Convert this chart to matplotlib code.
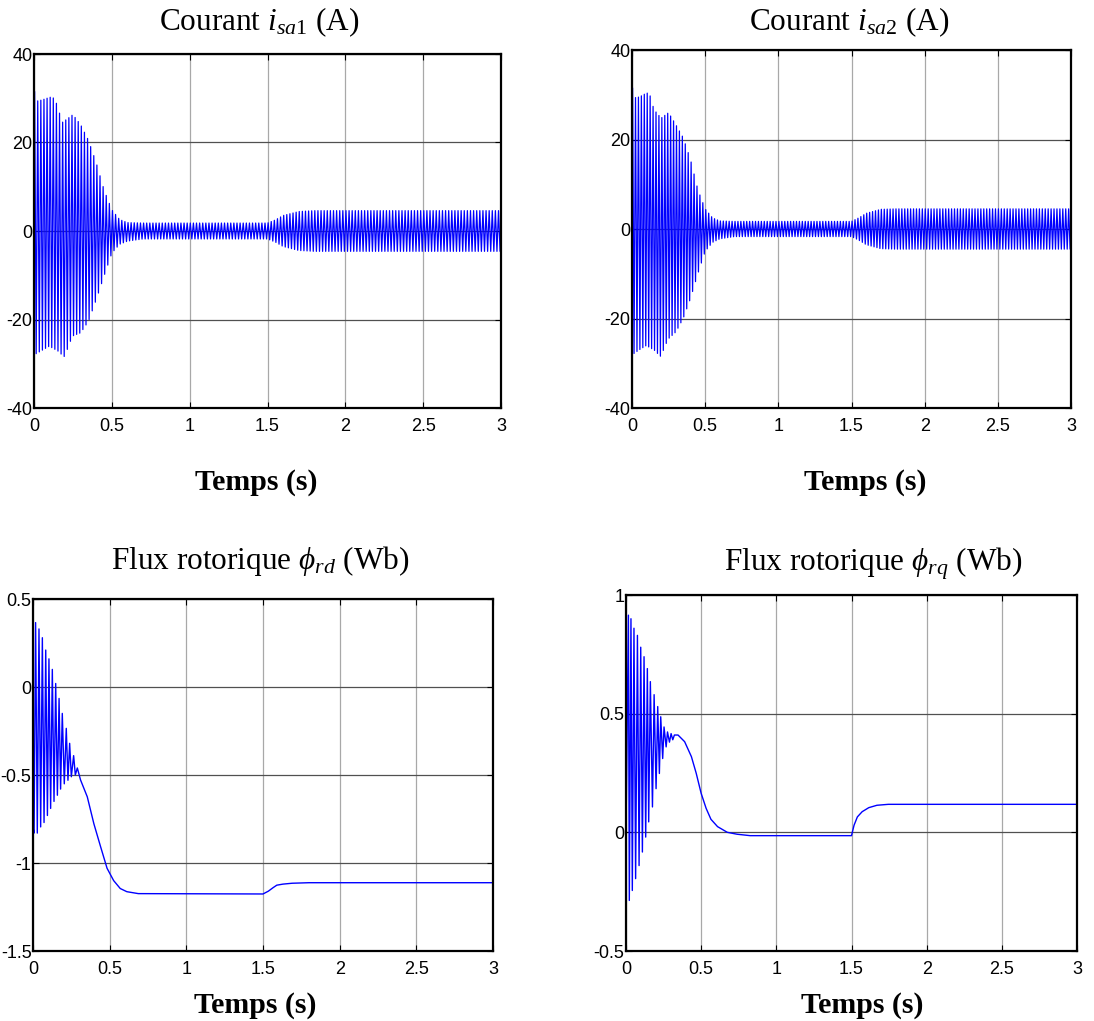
import numpy as np
import matplotlib
matplotlib.use("Agg")
import matplotlib.pyplot as plt

plt.rcParams["mathtext.fontset"] = "custom"
plt.rcParams["mathtext.rm"] = "Liberation Serif"
plt.rcParams["mathtext.it"] = "Liberation Serif:italic"

W, H = 1094, 1021
F_GRID = 50.0  # supply frequency of the stator currents (Hz), read from the cycle count

# --- stator currents: envelope knots ---
t_env = [0.0, 0.01, 0.05, 0.10, 0.12, 0.15, 0.18, 0.20, 0.22, 0.25, 0.30, 0.35, 0.40,
         0.45, 0.50, 0.55, 0.60, 0.70, 1.50, 1.55, 1.60, 1.70, 1.80, 3.00]
isa1_up = [33.0, 29.3, 29.6, 30.2, 30.3, 28.5, 24.5, 25.0, 25.5, 26.3, 24.0, 20.5, 15.4,
           9.3, 4.8, 2.6, 1.9, 1.8, 1.8, 2.5, 3.5, 4.4, 4.6, 4.6]
isa1_lo = [-27.8, -27.8, -27.0, -26.0, -26.5, -27.0, -28.0, -28.5, -26.0, -23.7, -23.0, -20.4, -15.5,
           -10.2, -5.0, -3.0, -2.3, -1.8, -1.8, -2.5, -3.5, -4.4, -4.6, -4.6]
isa2_up = [33.0, 29.3, 29.5, 30.4, 30.2, 26.7, 25.5, 24.8, 25.3, 26.0, 23.3, 20.4, 15.5,
           8.8, 4.5, 2.5, 1.8, 1.7, 1.7, 2.5, 3.5, 4.4, 4.5, 4.5]
isa2_lo = [-27.9, -27.9, -27.0, -26.0, -26.5, -27.0, -28.0, -28.6, -26.5, -24.5, -23.0, -20.0, -15.5,
           -10.0, -5.0, -3.0, -2.2, -1.7, -1.7, -2.5, -3.5, -4.4, -4.5, -4.5]

# --- rotor flux phi_rd: extrema of the start-up oscillation, then the smooth part ---
rd_t = [0.0, 0.007, 0.017, 0.028, 0.039, 0.050, 0.061, 0.072, 0.083, 0.094, 0.104, 0.115,
        0.126, 0.137, 0.148, 0.159, 0.170, 0.180, 0.191, 0.204, 0.217, 0.228, 0.239, 0.250,
        0.265, 0.276, 0.289, 0.31, 0.354, 0.397, 0.44, 0.483, 0.526, 0.569, 0.612, 0.687,
        1.50, 1.535, 1.566, 1.59, 1.63, 1.69, 1.80, 3.00]
rd_v = [-0.80, -0.83, 0.366, -0.83, 0.33, -0.795, 0.28, -0.77, 0.21, -0.73, 0.16, -0.69,
        0.10, -0.65, 0.02, -0.615, -0.065, -0.58, -0.15, -0.55, -0.235, -0.53, -0.32, -0.51,
        -0.39, -0.50, -0.46, -0.528, -0.624, -0.777, -0.905, -1.03, -1.10, -1.145, -1.163, -1.174,
        -1.176, -1.16, -1.14, -1.126, -1.12, -1.115, -1.112, -1.112]

# --- rotor flux phi_rq ---
rq_t = [0.0, 0.016, 0.022, 0.033, 0.042, 0.053, 0.064, 0.076, 0.087, 0.098, 0.109, 0.120,
        0.131, 0.142, 0.151, 0.162, 0.176, 0.187, 0.200, 0.211, 0.222, 0.231, 0.244, 0.253,
        0.267, 0.276, 0.289, 0.300, 0.311, 0.322, 0.346, 0.39, 0.435, 0.467, 0.50, 0.533,
        0.565, 0.609, 0.674, 0.739, 0.826, 1.50, 1.517, 1.539, 1.571, 1.615, 1.669, 1.745, 3.00]
rq_v = [0.0, 0.915, -0.287, 0.90, -0.245, 0.86, -0.195, 0.83, -0.14, 0.78, -0.083, 0.74,
        -0.02, 0.69, 0.044, 0.635, 0.107, 0.58, 0.184, 0.53, 0.248, 0.487, 0.311, 0.444,
        0.36, 0.423, 0.38, 0.416, 0.39, 0.41, 0.41, 0.382, 0.319, 0.249, 0.164, 0.101,
        0.055, 0.024, 0.0, -0.008, -0.014, -0.014, 0.03, 0.065, 0.087, 0.104, 0.114, 0.118, 0.118]

x_ticks = [0, 0.5, 1, 1.5, 2, 2.5, 3]
x_ticklabels = ["0", "0.5", "1", "1.5", "2", "2.5", "3"]


def current_trace(up, lo):
    # one extremum per half period, alternating between the two envelopes
    tp = np.arange(0.0, 3.0 + 1e-9, 0.5 / F_GRID) + 0.004
    u = np.interp(tp, t_env, up)
    l = np.interp(tp, t_env, lo)
    y = np.where(np.arange(tp.size) % 2 == 0, u, l)
    return np.r_[0.0, tp], np.r_[0.0, y]


TICK_FONT = dict(family=["Liberation Sans", "DejaVu Sans"], size=13)
SERIF = ["Liberation Serif", "DejaVu Serif"]


def make_axes(fig, left, right, top, bottom, ylim, yticks, yticklabels):
    ax = fig.add_axes([left / W, 1 - bottom / H, (right - left) / W, (bottom - top) / H])
    ax.set_xlim(0, 3)
    ax.set_ylim(*ylim)
    ax.set_xticks(x_ticks)
    ax.set_xticklabels(x_ticklabels, fontdict=TICK_FONT)
    ax.set_yticks(yticks)
    ax.set_yticklabels(yticklabels, fontdict=TICK_FONT)
    ax.tick_params(direction="in", length=4, width=0.8, top=True, right=True)
    ax.tick_params(axis="x", pad=7)
    ax.tick_params(axis="y", pad=1)
    ax.xaxis.grid(True, color="#a8a8a8", lw=0.9)
    ax.yaxis.grid(True, color="#505050", lw=0.9)
    ax.set_axisbelow(True)
    for sp in ax.spines.values():
        sp.set_color("black")
        sp.set_linewidth(1.6)
    return ax


fig = plt.figure(figsize=(W / 100, H / 100), dpi=100)
fig.patch.set_facecolor("white")

cur_ticks = [-40, -20, 0, 20, 40]
cur_labels = ["-40", "-20", "0", "20", "40"]

ax1 = make_axes(fig, 34, 501, 54, 408, (-40, 40), cur_ticks, cur_labels)
t1, y1 = current_trace(isa1_up, isa1_lo)
ax1.plot(t1, y1, color="#0000ff", lw=0.9)

ax2 = make_axes(fig, 632, 1071, 50, 408, (-40, 40), cur_ticks, cur_labels)
t2, y2 = current_trace(isa2_up, isa2_lo)
ax2.plot(t2, y2, color="#0000ff", lw=0.9)

ax3 = make_axes(fig, 33, 493, 599, 951, (-1.5, 0.5), [-1.5, -1, -0.5, 0, 0.5],
                ["-1.5", "-1", "-0.5", "0", "0.5"])
ax3.plot(rd_t, rd_v, color="#0000ff", lw=1.0)

ax4 = make_axes(fig, 626, 1077, 595, 951, (-0.5, 1), [-0.5, 0, 0.5, 1],
                ["-0.5", "0", "0.5", "1"])
ax4.plot(rq_t, rq_v, color="#0000ff", lw=1.0)

titles = [
    (259, 22, r"Courant $i_{sa1}$ (A)"),
    (849, 22, r"Courant $i_{sa2}$ (A)"),
    (260, 561, r"Flux rotorique $\phi_{rd}$ (Wb)"),
    (873, 564, r"Flux rotorique $\phi_{rq}$ (Wb)"),
]
for x, y, s in titles:
    fig.text(x / W, 1 - y / H, s, ha="center", va="center", fontsize=22.5, family=SERIF)

for x, y in [(256, 482), (865, 482), (255, 1005), (862, 1005)]:
    fig.text(x / W, 1 - y / H, "Temps (s)", ha="center", va="center", fontsize=21.5,
             fontweight="bold", family=SERIF)

fig.savefig("out.png", dpi=100, facecolor="white")
